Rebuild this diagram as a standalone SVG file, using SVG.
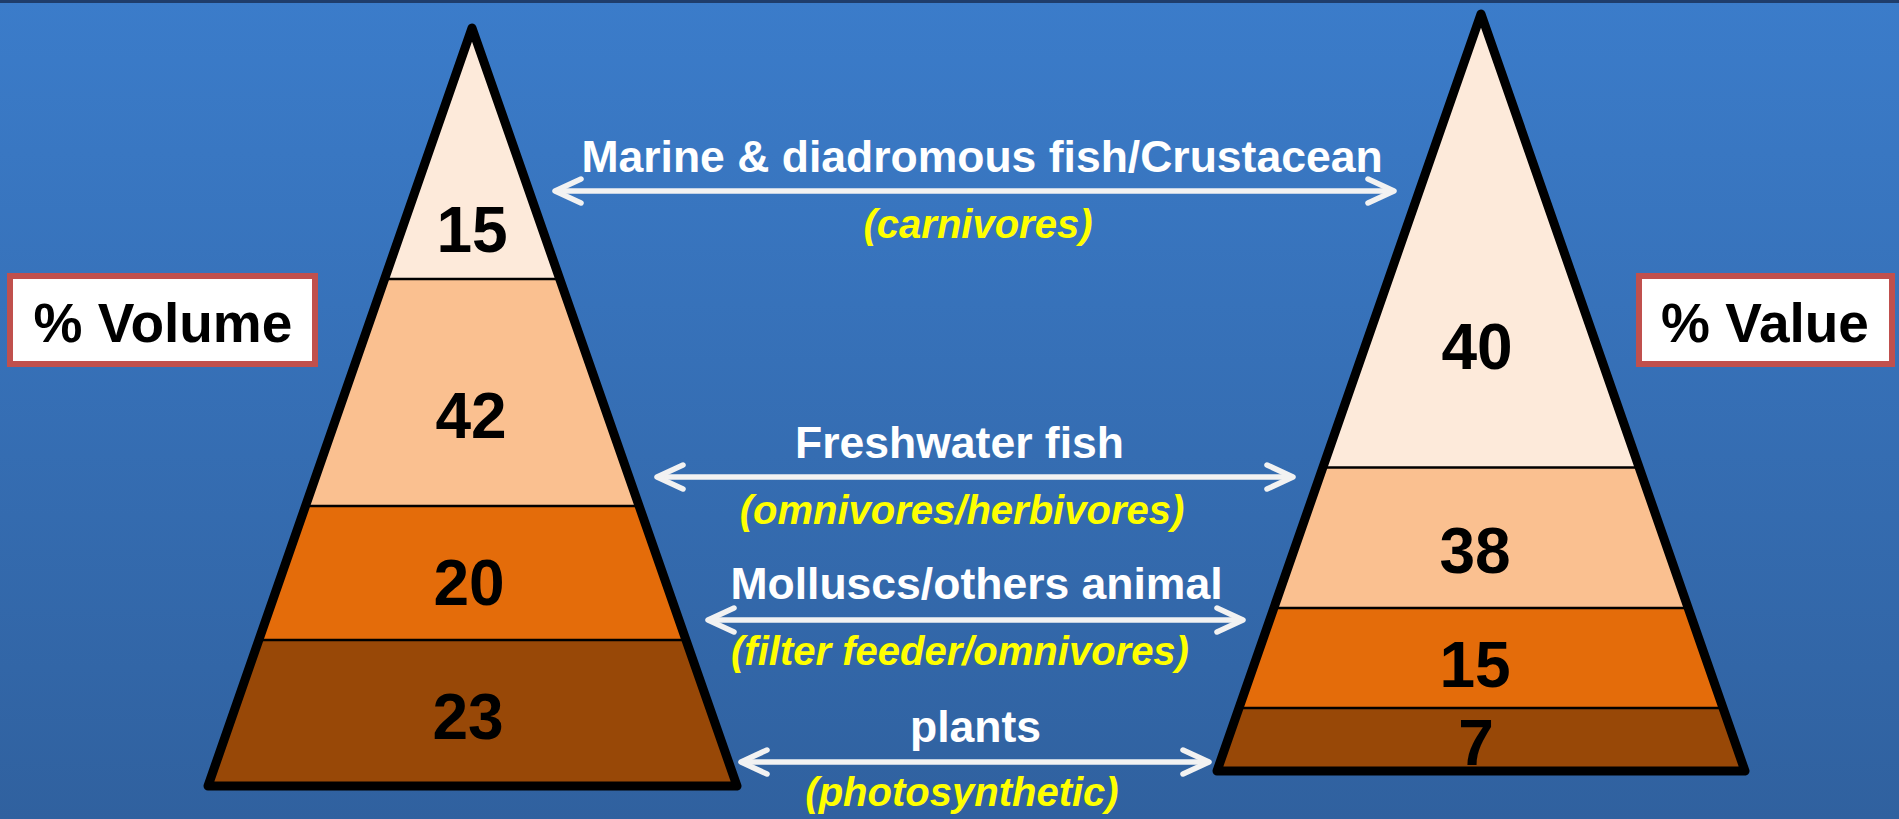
<svg xmlns="http://www.w3.org/2000/svg" width="1899" height="819" viewBox="0 0 1899 819">
<defs>
<linearGradient id="bg" x1="0" y1="0" x2="0" y2="1">
<stop offset="0" stop-color="#3b7cca"/>
<stop offset="1" stop-color="#30619f"/>
</linearGradient>
<clipPath id="clipL"><polygon points="472,28 737,786 208,786"/></clipPath>
<clipPath id="clipR"><polygon points="1481,14 1745,771 1217,771"/></clipPath>
<marker id="ah" viewBox="-30 -15 34 30" markerWidth="34" markerHeight="30" refX="0" refY="0" orient="auto-start-reverse" markerUnits="userSpaceOnUse">
<path d="M-26,-12 L0,0 L-26,12" fill="none" stroke="#f2f2f2" stroke-width="5.5" stroke-linecap="round" stroke-linejoin="round"/>
</marker>
</defs>
<style>
.outline{fill:none;stroke:#000;stroke-width:9;stroke-linejoin:round}
.div{stroke:#000;stroke-width:2.5}
.l1{fill:#fdeada}.l2{fill:#fac090}.l3{fill:#e46c0a}.l4{fill:#984807}
.num{font-family:"Liberation Sans",Arial,sans-serif;font-weight:bold;font-size:64px;fill:#000;text-anchor:middle}
.lbl{font-family:"Liberation Sans",Arial,sans-serif;font-weight:bold;font-size:44.5px;fill:#fff;text-anchor:middle}
.sub{font-family:"Liberation Sans",Arial,sans-serif;font-weight:bold;font-style:italic;font-size:40px;fill:#ffff00;text-anchor:middle}
.box{fill:#fff;stroke:#c0504d;stroke-width:6}
.boxt{font-family:"Liberation Sans",Arial,sans-serif;font-weight:bold;font-size:55px;fill:#000;text-anchor:middle}
.arr{stroke:#f2f2f2;stroke-width:5.5;fill:none;marker-start:url(#ah);marker-end:url(#ah)}
</style>
<rect x="0" y="0" width="1899" height="819" fill="url(#bg)"/>
<rect x="0" y="0" width="1899" height="3" fill="#1f3d6b"/>

<g id="pyramid-volume">
<g clip-path="url(#clipL)">
<rect class="l1" x="200" y="20" width="545" height="259"/>
<rect class="l2" x="200" y="279" width="545" height="227"/>
<rect class="l3" x="200" y="506" width="545" height="134"/>
<rect class="l4" x="200" y="640" width="545" height="150"/>
<line class="div" x1="200" y1="279" x2="745" y2="279"/>
<line class="div" x1="200" y1="506" x2="745" y2="506"/>
<line class="div" x1="200" y1="640" x2="745" y2="640"/>
</g>
<polygon class="outline" points="472,28 737,786 208,786"/>
<text class="num" x="472" y="252">15</text>
<text class="num" x="471" y="438">42</text>
<text class="num" x="469" y="605">20</text>
<text class="num" x="468" y="739">23</text>
</g>

<g id="pyramid-value">
<g clip-path="url(#clipR)">
<rect class="l1" x="1210" y="8" width="545" height="459.5"/>
<rect class="l2" x="1210" y="467.5" width="545" height="140.5"/>
<rect class="l3" x="1210" y="608" width="545" height="100"/>
<rect class="l4" x="1210" y="708" width="545" height="70"/>
<line class="div" x1="1210" y1="467.5" x2="1755" y2="467.5"/>
<line class="div" x1="1210" y1="608" x2="1755" y2="608"/>
<line class="div" x1="1210" y1="708" x2="1755" y2="708"/>
</g>
<polygon class="outline" points="1481,14 1745,771 1217,771"/>
<text class="num" x="1477" y="369">40</text>
<text class="num" x="1475" y="573">38</text>
<text class="num" x="1475" y="687">15</text>
<text class="num" x="1476" y="765">7</text>
</g>

<g id="box-volume">
<rect class="box" x="10" y="276" width="305" height="88"/>
<text class="boxt" x="163" y="342">% Volume</text>
</g>
<g id="box-value">
<rect class="box" x="1639" y="276" width="253" height="88"/>
<text class="boxt" x="1765" y="342">% Value</text>
</g>

<g id="connectors">
<line class="arr" x1="555" y1="191" x2="1394" y2="191"/>
<line class="arr" x1="657" y1="477" x2="1293" y2="477"/>
<line class="arr" x1="708" y1="620" x2="1243" y2="620"/>
<line class="arr" x1="741" y1="762" x2="1209" y2="762"/>
</g>

<g id="label-marine">
<text class="lbl" x="982" y="172">Marine &amp; diadromous fish/Crustacean</text>
<text class="sub" x="978" y="238">(carnivores)</text>
</g>
<g id="label-freshwater">
<text class="lbl" x="959.5" y="458">Freshwater fish</text>
<text class="sub" x="962" y="524">(omnivores/herbivores)</text>
</g>
<g id="label-molluscs">
<text class="lbl" x="976.5" y="599">Molluscs/others animal</text>
<text class="sub" x="960" y="665">(filter feeder/omnivores)</text>
</g>
<g id="label-plants">
<text class="lbl" x="975.5" y="742">plants</text>
<text class="sub" x="962" y="806">(photosynthetic)</text>
</g>
</svg>
